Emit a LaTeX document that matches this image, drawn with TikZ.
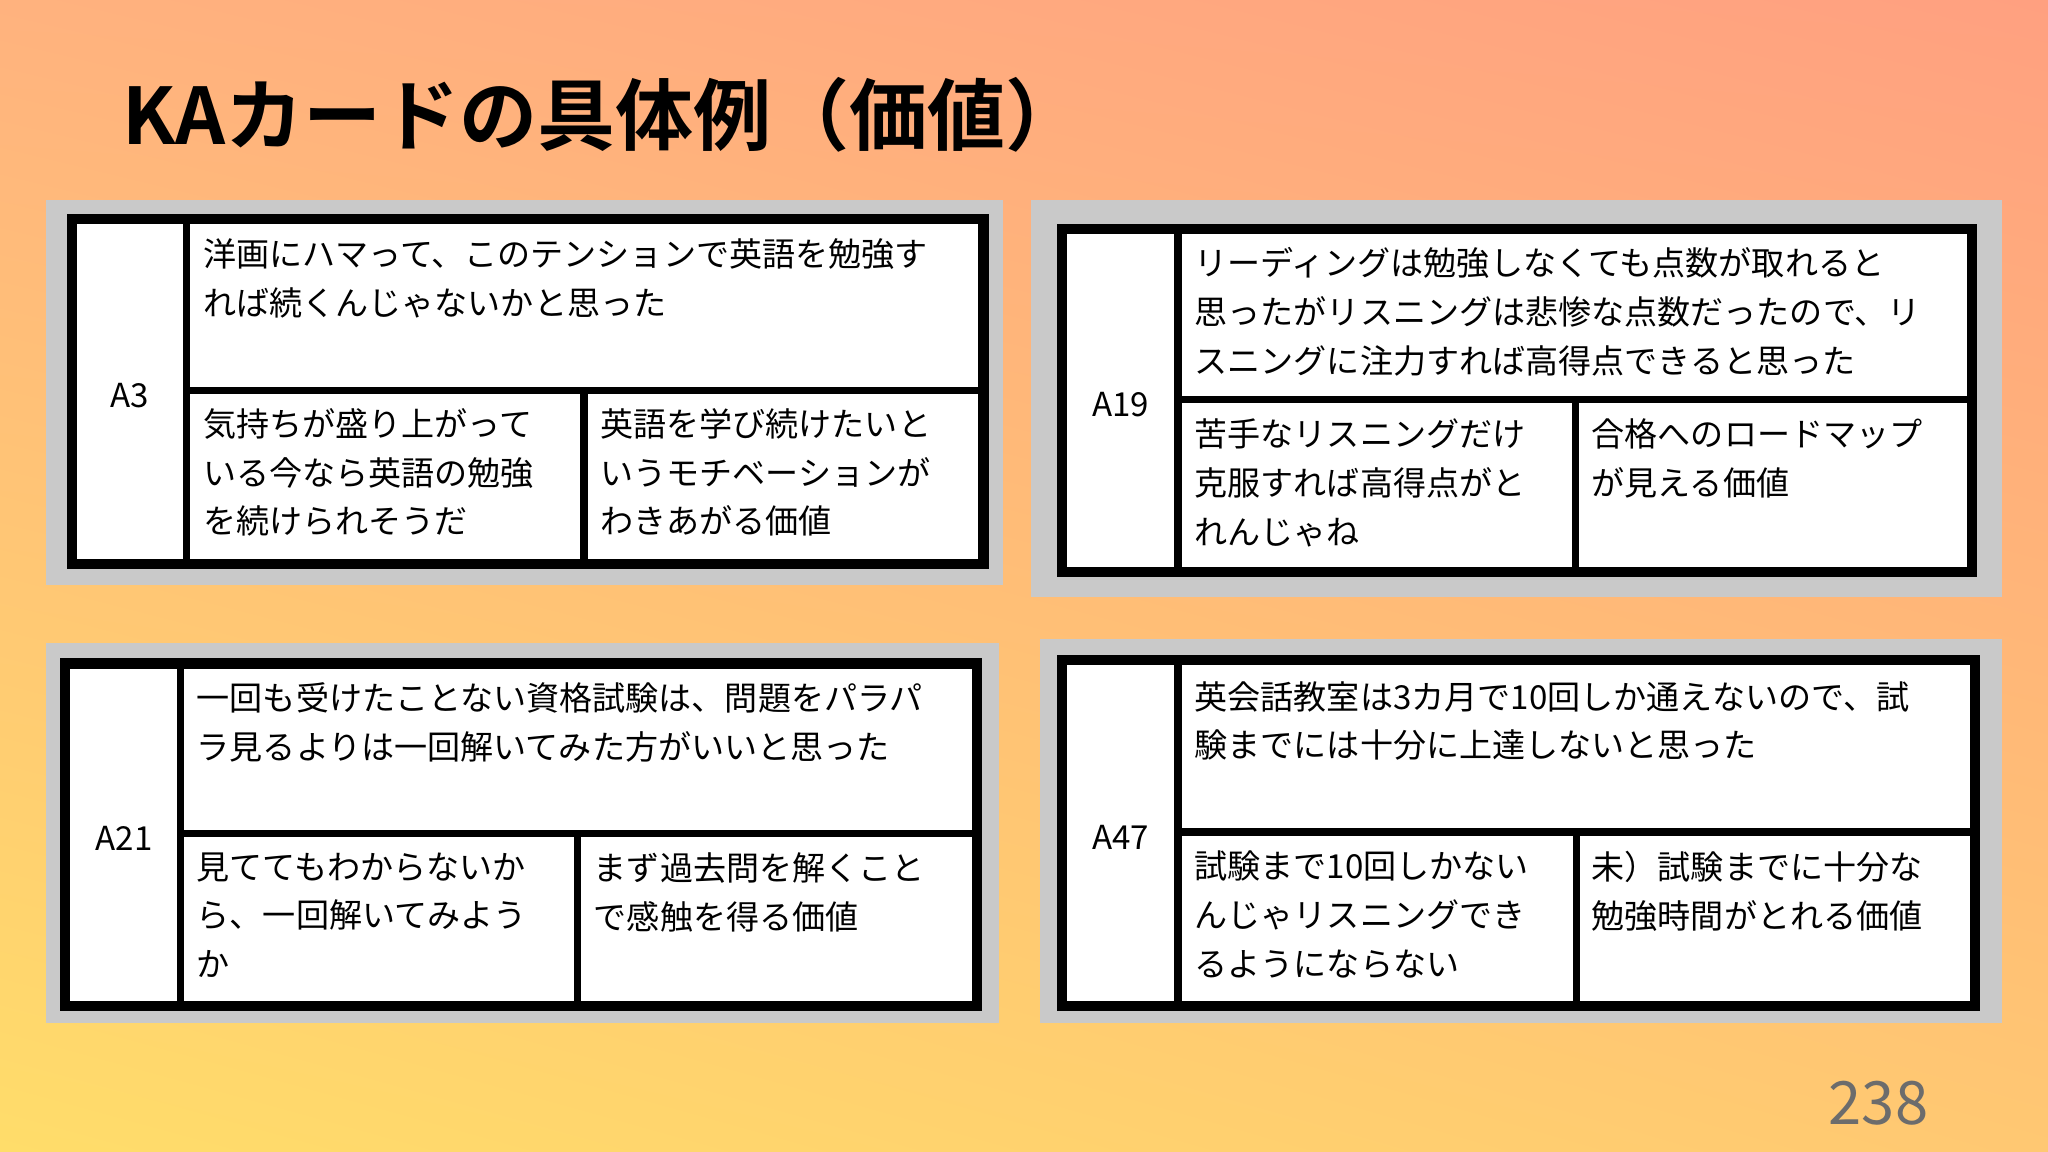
\documentclass[tikz,border=0pt]{standalone}
\usepackage{fontspec}
\usetikzlibrary{shadings}
\setmainfont{Noto Sans CJK JP}
\newfontfamily\jpbold{Noto Sans CJK JP Bold}
\definecolor{gtop}{HTML}{FFB27E}
\definecolor{gtr}{HTML}{FFA080}
\definecolor{gbl}{HTML}{FFDD6A}
\definecolor{gbr}{HTML}{FFC872}
\definecolor{frame}{HTML}{C9C9C9}
\tikzset{
 cardtxt/.style={anchor=north west,align=left,inner sep=0pt,font=\fontsize{7.2pt}{10.6pt}\selectfont},
 lbl/.style={font=\fontsize{7.2pt}{9pt}\selectfont,inner sep=0pt},
 bx/.style={draw=black,line width=2.2pt,fill=white},
 cell/.style={draw=black,line width=1.6pt},
}
\newcommand{\card}[9]{% gx1 gy1 gx2 gy2 bx1 by1 bx2 by2 name
 \fill[frame] (#1,#2) rectangle (#3,#4);
 \draw[bx] (#5,#6) rectangle (#7,#8);
}
\begin{document}
\begin{tikzpicture}[x=0.01cm,y=-0.01cm]
\useasboundingbox (0,0) rectangle (1568,882);
\shade[upper left=gtop,upper right=gtr,lower left=gbl,lower right=gbr] (0,0) rectangle (1568,882);
\node[anchor=west,inner sep=0pt,font=\jpbold\fontsize{17pt}{20pt}\selectfont] (title) at (93,88) {KAカードの具体例（価値）};
\node[anchor=east,inner sep=0pt,text=gray!85!black,font=\fontsize{13pt}{15pt}\selectfont] (pg) at (1477,845) {238};
% card 1
\card{35}{153}{768}{448}{55}{168}{753}{432}{c1}
\draw[cell] (143,168) -- (143,432) (143,299) -- (753,299) (447,299) -- (447,432);
\node[lbl] (l1) at (99,303) {A3};
\node[cardtxt] (t1) at (155,182) {洋画にハマって、このテンションで英語を勉強す\\れば続くんじゃないかと思った};
\node[cardtxt] (t1a) at (155,312) {気持ちが盛り上がって\\いる今なら英語の勉強\\を続けられそうだ};
\node[cardtxt] (t1b) at (459,312) {英語を学び続けたいと\\いうモチベーションが\\わきあがる価値};
% card 2
\card{789}{153}{1533}{457}{813}{175}{1510}{438}{c2}
\draw[cell] (902,175) -- (902,438) (902,306) -- (1510,306) (1206,306) -- (1206,438);
\node[lbl] (l2) at (858,310) {A19};
\node[cardtxt] (t2) at (914,189) {リーディングは勉強しなくても点数が取れると\\思ったがリスニングは悲惨な点数だったので、リ\\スニングに注力すれば高得点できると思った};
\node[cardtxt] (t2a) at (914,320) {苦手なリスニングだけ\\克服すれば高得点がと\\れんじゃね};
\node[cardtxt] (t2b) at (1218,320) {合格へのロードマップ\\が見える価値};
% card 3
\card{35}{492}{765}{783}{50}{508}{748}{770}{c3}
\draw[cell] (138,508) -- (138,770) (138,638) -- (748,638) (442,638) -- (442,770);
\node[lbl] (l3) at (95,642) {A21};
\node[cardtxt] (t3) at (150,522) {一回も受けたことない資格試験は、問題をパラパ\\ラ見るよりは一回解いてみた方がいいと思った};
\node[cardtxt] (t3a) at (150,652) {見ててもわからないか\\ら、一回解いてみよう\\か};
\node[cardtxt] (t3b) at (454,652) {まず過去問を解くこと\\で感触を得る価値};
% card 4
\card{796}{489}{1533}{783}{813}{505}{1512}{770}{c4}
\draw[cell] (902,505) -- (902,770) (902,637) -- (1512,637) (1207,637) -- (1207,770);
\node[lbl] (l4) at (858,641) {A47};
\node[cardtxt] (t4) at (914,521) {英会話教室は3カ月で10回しか通えないので、試\\験までには十分に上達しないと思った};
\node[cardtxt] (t4a) at (914,651) {試験まで10回しかない\\んじゃリスニングでき\\るようにならない};
\node[cardtxt] (t4b) at (1218,651) {未）試験までに十分な\\勉強時間がとれる価値};
\end{tikzpicture}
\end{document}
